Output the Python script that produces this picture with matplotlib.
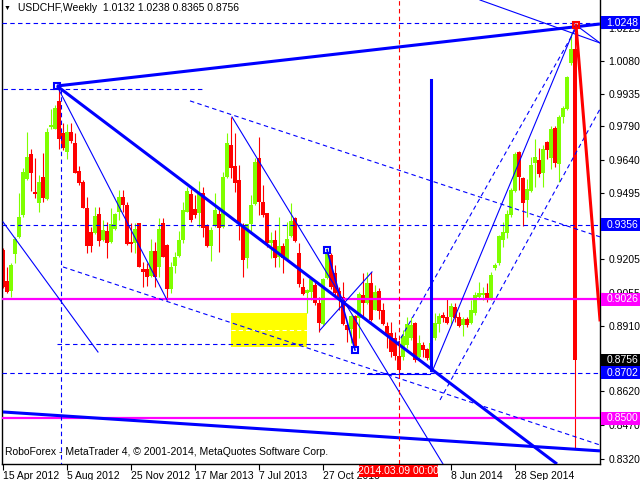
import matplotlib
matplotlib.use("Agg")
import matplotlib.pyplot as plt
import matplotlib.transforms as mtransforms
from matplotlib.patches import Rectangle

plt.rcParams['font.family'] = ['Liberation Sans', 'DejaVu Sans']

# USDCHF weekly candles, bar 0 = week of 15 Apr 2012, bar 143 = week of 11 Jan 2015
opens = [0.9244, 0.9107, 0.9063, 0.9226, 0.9302, 0.9399, 0.9558, 0.9668, 0.9500, 0.9452,
         0.9567, 0.9469, 0.9788, 0.9779, 0.9903, 0.9761, 0.9677, 0.9766, 0.9717, 0.9593,
         0.9545, 0.9430, 0.9324, 0.9319, 0.9403, 0.9288, 0.9328, 0.9279, 0.9337, 0.9412,
         0.9478, 0.9443, 0.9279, 0.9275, 0.9363, 0.9160, 0.9160, 0.9129, 0.9240, 0.9169,
         0.9363, 0.9266, 0.9072, 0.9173, 0.9218, 0.9288, 0.9412, 0.9492, 0.9425, 0.9408,
         0.9496, 0.9354, 0.9262, 0.9350, 0.9403, 0.9346, 0.9567, 0.9708, 0.9615, 0.9553,
         0.9346, 0.9209, 0.9359, 0.9447, 0.9651, 0.9456, 0.9408, 0.9275, 0.9288, 0.9213,
         0.9262, 0.9204, 0.9306, 0.9385, 0.9231, 0.9081, 0.9054, 0.9058, 0.9089, 0.9010,
         0.8917, 0.9120, 0.9222, 0.9142, 0.9063, 0.9036, 0.8913, 0.8895, 0.8952, 0.8943,
         0.9045, 0.9010, 0.9098, 0.8979, 0.9063, 0.8979, 0.8908, 0.8877, 0.8855, 0.8776,
         0.8771, 0.8824, 0.8855, 0.8921, 0.8771, 0.8824, 0.8806, 0.8758, 0.8855, 0.8917,
         0.8957, 0.8948, 0.8948, 0.8992, 0.8948, 0.8913, 0.8939, 0.8921, 0.8966, 0.9036,
         0.9045, 0.9054, 0.9032, 0.9164, 0.9187, 0.9288, 0.9319, 0.9399, 0.9505, 0.9677,
         0.9562, 0.9465, 0.9505, 0.9629, 0.9642, 0.9584, 0.9721, 0.9651, 0.9783, 0.9624,
         0.9832, 0.9867, 1.0071, 1.0132]
highs = [0.9253, 0.9169, 0.9187, 0.9302, 0.9496, 0.9606, 0.9766, 0.9690, 0.9651, 0.9576,
         0.9673, 0.9783, 0.9867, 0.9885, 0.9965, 0.9805, 0.9801, 0.9805, 0.9761, 0.9615,
         0.9553, 0.9478, 0.9346, 0.9434, 0.9434, 0.9377, 0.9368, 0.9430, 0.9408, 0.9509,
         0.9509, 0.9456, 0.9363, 0.9363, 0.9363, 0.9191, 0.9187, 0.9293, 0.9279, 0.9385,
         0.9385, 0.9271, 0.9191, 0.9235, 0.9328, 0.9456, 0.9523, 0.9514, 0.9487, 0.9549,
         0.9523, 0.9359, 0.9346, 0.9496, 0.9434, 0.9589, 0.9761, 0.9832, 0.9761, 0.9620,
         0.9363, 0.9359, 0.9487, 0.9651, 0.9744, 0.9531, 0.9408, 0.9324, 0.9332, 0.9390,
         0.9275, 0.9368, 0.9452, 0.9390, 0.9275, 0.9120, 0.9072, 0.9120, 0.9103, 0.9036,
         0.9120, 0.9253, 0.9231, 0.9178, 0.9081, 0.9103, 0.8926, 0.8957, 0.8957, 0.9058,
         0.9142, 0.9147, 0.9147, 0.9089, 0.9076, 0.9010, 0.8926, 0.8926, 0.8882, 0.8846,
         0.8890, 0.8948, 0.8948, 0.8926, 0.8868, 0.8838, 0.8811, 0.8868, 0.8966, 0.8966,
         0.8970, 0.9027, 0.9010, 0.9010, 0.8970, 0.8948, 0.8948, 0.9023, 0.9058, 0.9103,
         0.9081, 0.9098, 0.9147, 0.9187, 0.9310, 0.9368, 0.9421, 0.9518, 0.9677, 0.9682,
         0.9567, 0.9558, 0.9655, 0.9735, 0.9695, 0.9708, 0.9726, 0.9792, 0.9792, 0.9841,
         0.9880, 1.0013, 1.0203, 1.0238]
lows = [0.9076, 0.9054, 0.9036, 0.9187, 0.9297, 0.9390, 0.9553, 0.9505, 0.9474, 0.9412,
        0.9456, 0.9465, 0.9779, 0.9779, 0.9690, 0.9686, 0.9646, 0.9717, 0.9584, 0.9531,
        0.9430, 0.9231, 0.9235, 0.9315, 0.9262, 0.9284, 0.9209, 0.9275, 0.9332, 0.9377,
        0.9412, 0.9266, 0.9235, 0.9231, 0.9169, 0.9081, 0.9085, 0.9125, 0.9081, 0.9125,
        0.9213, 0.9023, 0.9054, 0.9142, 0.9213, 0.9275, 0.9412, 0.9368, 0.9385, 0.9346,
        0.9302, 0.9257, 0.9195, 0.9346, 0.9235, 0.9341, 0.9562, 0.9562, 0.9500, 0.9288,
        0.9125, 0.9164, 0.9319, 0.9443, 0.9399, 0.9390, 0.9257, 0.9209, 0.9169, 0.9169,
        0.9142, 0.9200, 0.9302, 0.9279, 0.9081, 0.9045, 0.8966, 0.9023, 0.9001, 0.8882,
        0.8913, 0.9116, 0.9072, 0.9045, 0.8979, 0.8913, 0.8838, 0.8833, 0.8815, 0.8855,
        0.8943, 0.9005, 0.8930, 0.8979, 0.8939, 0.8913, 0.8811, 0.8771, 0.8758, 0.8700,
        0.8758, 0.8811, 0.8846, 0.8749, 0.8767, 0.8771, 0.8758, 0.8714, 0.8846, 0.8882,
        0.8926, 0.8917, 0.8913, 0.8926, 0.8904, 0.8864, 0.8904, 0.8917, 0.8957, 0.9032,
        0.9023, 0.9014, 0.9023, 0.9156, 0.9178, 0.9257, 0.9297, 0.9390, 0.9500, 0.9509,
        0.9350, 0.9390, 0.9500, 0.9523, 0.9567, 0.9523, 0.9646, 0.9602, 0.9611, 0.9545,
        0.9805, 0.9863, 1.0062, 0.8365]
closes = [0.9081, 0.9058, 0.9178, 0.9293, 0.9390, 0.9589, 0.9655, 0.9584, 0.9492, 0.9545,
          0.9474, 0.9766, 0.9797, 0.9872, 0.9735, 0.9695, 0.9766, 0.9726, 0.9584, 0.9540,
          0.9430, 0.9262, 0.9262, 0.9394, 0.9284, 0.9332, 0.9275, 0.9359, 0.9403, 0.9478,
          0.9443, 0.9271, 0.9271, 0.9337, 0.9169, 0.9147, 0.9125, 0.9240, 0.9125, 0.9337,
          0.9213, 0.9072, 0.9169, 0.9213, 0.9288, 0.9421, 0.9505, 0.9377, 0.9399, 0.9492,
          0.9341, 0.9262, 0.9332, 0.9421, 0.9341, 0.9567, 0.9717, 0.9606, 0.9540, 0.9359,
          0.9200, 0.9359, 0.9443, 0.9633, 0.9456, 0.9399, 0.9275, 0.9288, 0.9209, 0.9262,
          0.9209, 0.9293, 0.9372, 0.9284, 0.9094, 0.9050, 0.9067, 0.9116, 0.9010, 0.8921,
          0.9116, 0.9231, 0.9081, 0.9054, 0.9023, 0.8917, 0.8890, 0.8952, 0.8815, 0.9050,
          0.9010, 0.9098, 0.8935, 0.9058, 0.8974, 0.8917, 0.8868, 0.8793, 0.8776, 0.8714,
          0.8864, 0.8917, 0.8913, 0.8758, 0.8833, 0.8802, 0.8767, 0.8833, 0.8921, 0.8952,
          0.8943, 0.8921, 0.8996, 0.8943, 0.8908, 0.8939, 0.8913, 0.8979, 0.9045, 0.9054,
          0.9054, 0.9023, 0.9134, 0.9178, 0.9306, 0.9324, 0.9403, 0.9509, 0.9668, 0.9567,
          0.9452, 0.9514, 0.9620, 0.9655, 0.9580, 0.9690, 0.9686, 0.9779, 0.9629, 0.9832,
          0.9872, 1.0009, 1.0132, 0.8756]

# axis labels
date_bars = [0, 16, 32, 48, 64, 80, 112, 128]
date_labels = ['15 Apr 2012', '5 Aug 2012', '25 Nov 2012', '17 Mar 2013', '7 Jul 2013',
               '27 Oct 2013', '8 Jun 2014', '28 Sep 2014']
price_ticks = [1.0225, 1.0080, 0.9935, 0.9790, 0.9640, 0.9495, 0.9205,
               0.9055, 0.8910, 0.8620, 0.8470, 0.8320]

# horizontal levels drawn on the chart
level_blue = [1.0248, 0.9356, 0.8702]
level_magenta = [0.9026, 0.8500]
last_price = 0.8756
cursor_bar = 99
cursor_label = '2014.03.09 00:00'

# analysis objects as (bar, price) end points
thick_lines = [((13.5, 0.9969), (149.25, 1.0243)),
               ((13.5, 0.9969), (138.5, 0.8298)),
               ((0.0, 0.8528), (149.25, 0.8356))]
thin_lines = [((13.5, 0.9969), (41.0, 0.9023)),
              ((0.0, 0.9368), (23.75, 0.8793)),
              ((57.25, 0.9832), (110.0, 0.8298)),
              ((79.25, 0.8890), (92.25, 0.9147)),
              ((107.25, 0.8705), (143.25, 1.0238)),
              ((119.25, 1.0349), (149.25, 1.0159)),
              ((143.25, 1.0238), (149.25, 1.0159)),
              ((91.0, 0.8696), (106.75, 0.8696))]
dashed_lines = [((14.5, 0.9956), (14.5, 0.8298)),
                ((0.0, 0.9956), (50.5, 0.9956)),
                ((13.5, 0.8829), (83.25, 0.8829)),
                ((46.75, 0.9903), (149.25, 0.9302)),
                ((15.0, 0.9169), (149.25, 0.8382)),
                ((98.5, 0.8824), (143.0, 1.0216)),
                ((109.25, 0.8581), (149.25, 0.9867))]
wave_bars = [81, 88]
wave_prices = [0.9244, 0.8802]
apex = (13.5, 0.9969)
impulse_line = ((107, 0.9995), (107, 0.8714))
forecast_line = ((143.25, 1.0238), (149.25, 0.8935))
zone_bars = (57, 76)
zone_prices = (0.8815, 0.8966)

BLUE = '#0000FF'
MAGENTA = '#FF00FF'
BULL = '#7FFF00'
BEAR = '#FF0000'

fig = plt.figure(figsize=(6.4, 4.8), dpi=100)
ax = fig.add_axes([2 / 640, 16 / 480, 598 / 640, 464 / 480])
ax.set_xlim(-0.25, 149.25)
ax.set_ylim(0.8298, 1.0349)

# zone
ax.add_patch(Rectangle((zone_bars[0], zone_prices[0]), zone_bars[1] - zone_bars[0],
                       zone_prices[1] - zone_prices[0], facecolor='#FFFF00',
                       edgecolor='none', zorder=0.5))
ax.plot([zone_bars[0], zone_bars[1]], [sum(zone_prices) / 2] * 2, color='white',
        lw=0.75, ls=(0, (4, 3)), zorder=0.6)

# candles
for i in range(len(opens)):
    o, h, l, c = opens[i], highs[i], lows[i], closes[i]
    col = BULL if c >= o else BEAR
    ax.vlines(i, l, h, color=col, lw=0.8, zorder=2)
    lo, hi = min(o, c), max(o, c)
    if hi - lo < 0.0005:
        hi = lo + 0.0005
    ax.add_patch(Rectangle((i - 0.38, lo), 0.76, hi - lo, facecolor=col,
                           edgecolor='none', zorder=2))

# levels
for lv in level_blue:
    ax.axhline(lv, color=BLUE, lw=0.8, ls=(0, (4, 3)), zorder=3)
for lv in level_magenta:
    ax.axhline(lv, color=MAGENTA, lw=1.6, zorder=3)

for (x0, y0), (x1, y1) in thick_lines:
    ax.plot([x0, x1], [y0, y1], color=BLUE, lw=2.2, zorder=3, solid_capstyle='butt')
for (x0, y0), (x1, y1) in thin_lines:
    ax.plot([x0, x1], [y0, y1], color=BLUE, lw=0.8, zorder=3)
for (x0, y0), (x1, y1) in dashed_lines:
    ax.plot([x0, x1], [y0, y1], color=BLUE, lw=0.8, ls=(0, (4, 3)), zorder=3)

ax.plot(wave_bars, wave_prices, color=BLUE, lw=1.2, zorder=3)
ax.plot(wave_bars + [apex[0]], wave_prices + [apex[1]], ls='none', marker='s', ms=4,
        mfc='none', mec=BLUE, mew=1.5, zorder=4)
(x0, y0), (x1, y1) = impulse_line
ax.plot([x0, x1], [y0, y1], color=BLUE, lw=2.2, zorder=3)
(x0, y0), (x1, y1) = forecast_line
ax.plot([x0, x1], [y0, y1], color=BEAR, lw=2.2, zorder=4)
ax.plot([x0], [y0], ls='none', marker='s', ms=4, mfc='none', mec=BEAR, mew=1.5, zorder=4)
ax.axvline(cursor_bar, color=BEAR, lw=0.8, ls=(0, (4, 3)), zorder=3)

# frame and axes
ax.spines['top'].set_visible(False)
for side in ['left', 'right', 'bottom']:
    ax.spines[side].set_color('black')
    ax.spines[side].set_linewidth(1.0)

ax.yaxis.tick_right()
ax.set_yticks(price_ticks)
ax.set_yticklabels(['%.4f' % t for t in price_ticks])
ax.tick_params(axis='y', direction='out', length=3, pad=3, labelsize=7.5, colors='black')
ax.set_xticks(date_bars)
ax.set_xticklabels(date_labels)
for lab in ax.get_xticklabels():
    lab.set_horizontalalignment('left')
ax.tick_params(axis='x', direction='out', length=4, pad=1, labelsize=7.5, colors='black')

trans = mtransforms.blended_transform_factory(ax.transAxes, ax.transData)
box_h = 0.0057
tags = [(1.0248, BLUE), (0.9356, BLUE), (0.9026, MAGENTA), (last_price, 'black'),
        (0.8702, BLUE), (0.8500, MAGENTA)]
for val, col in tags:
    ax.add_patch(Rectangle((1.0015, val - box_h / 2), 0.07, box_h, transform=trans,
                           facecolor=col, edgecolor='none', clip_on=False, zorder=10))
    ax.text(1.011, val, '%.4f' % val, transform=trans, color='white', fontsize=7.5,
            va='center', ha='left', clip_on=False, zorder=11)

# cursor date label (drawn over the date scale)
ax.add_patch(Rectangle((359 / 640, 3 / 480), 79 / 640, 12 / 480,
                       transform=fig.transFigure, facecolor=BEAR,
                       edgecolor='none', clip_on=False, zorder=10))
ax.text(398.5 / 640, 9 / 480, cursor_label, transform=fig.transFigure, color='white',
        fontsize=7.5, ha='center', va='center', clip_on=False, zorder=11)

fig.text(4 / 640, 1 - 8 / 480, '\u25bc', fontsize=5, va='center', ha='left')
fig.text(18 / 640, 1 - 8 / 480, 'USDCHF,Weekly  1.0132 1.0238 0.8365 0.8756',
         fontsize=7.5, va='center', ha='left')
fig.text(5 / 640, 1 - 452 / 480,
         'RoboForex - MetaTrader 4, \u00a9 2001-2014, MetaQuotes Software Corp.',
         fontsize=7.5, va='center', ha='left')

fig.savefig('out.png', dpi=100, facecolor='white')
